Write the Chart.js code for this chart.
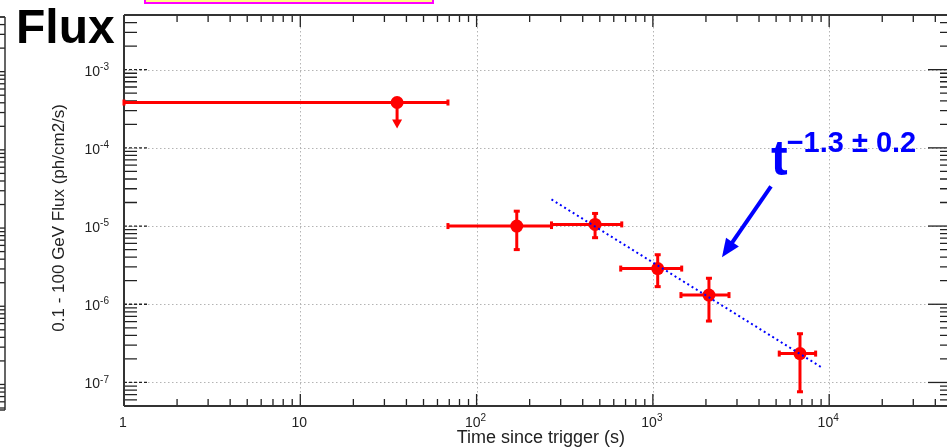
<!DOCTYPE html>
<html>
<head>
<meta charset="utf-8">
<script src="https://cdn.jsdelivr.net/npm/chart.js@4.4.0/dist/chart.umd.min.js"></script>
<style>
  html, body { margin: 0; padding: 0; background: #fff; }
  #wrap { width: 947px; height: 447px; }
</style>
</head>
<body>
<div id="wrap"><canvas id="fluxChart" width="947" height="447"></canvas></div>
<script>
// Time bins (s) and flux values
const timeMid  = [35.4, 169, 470, 1065, 2080, 6830];
const timeLow  = [1, 68.8, 266, 657, 1443, 5210];
const timeHigh = [68.8, 266, 666, 1457, 2703, 8380];
const flux     = [3.8e-4, 1.0e-5, 1.05e-5, 2.86e-6, 1.31e-6, 2.34e-7];
const fluxLow  = [1.82e-4, 5.0e-6, 7.1e-6, 1.68e-6, 6.1e-7, 7.6e-8];
const fluxHigh = [3.8e-4, 1.55e-5, 1.45e-5, 4.3e-6, 2.15e-6, 4.2e-7];
const upperLimit = [true, false, false, false, false, false];

// Power-law fit (dotted blue)
const fitTime = [266, 9060];
const fitFlux = [2.19e-5, 1.56e-7];

// Axis ranges and tick labels
const xRange = [1, 46600];
const yRange = [5e-8, 5e-3];
const xTickValues = [1, 10, 100, 1000, 10000];
const xTickLabels = ['1', '10', '10^2', '10^3', '10^4'];
const yTickValues = [1e-3, 1e-4, 1e-5, 1e-6, 1e-7];
const yTickLabels = ['10^-3', '10^-4', '10^-5', '10^-6', '10^-7'];

// Annotation: t^(-1.3 +- 0.2) with arrow (data coords)
const noteText = ['t', '\u22121.3 \u00b1 0.2'];
const noteAt = [4677, 4.44e-5];
const arrowFrom = [4677, 3.21e-5];
const arrowTo = [2466, 3.98e-6];

const FONT = '"Liberation Sans", Arial, Helvetica, sans-serif';

function drawPower(ctx, label, x, y, align, size) {
    const parts = label.split('^');
    ctx.font = size + 'px ' + FONT;
    const wb = ctx.measureText(parts[0]).width;
    const supSize = Math.round(size * 0.72);
    let we = 0;
    if (parts[1]) {
        ctx.font = supSize + 'px ' + FONT;
        we = ctx.measureText(parts[1]).width;
    }
    const total = wb + we;
    let start = x;
    if (align === 'center') start = x - total / 2;
    if (align === 'right') start = x - total;
    ctx.textAlign = 'left';
    ctx.textBaseline = 'alphabetic';
    ctx.font = size + 'px ' + FONT;
    ctx.fillText(parts[0], start, y);
    if (parts[1]) {
        ctx.font = supSize + 'px ' + FONT;
        ctx.fillText(parts[1], start + wb, y - size * 0.42);
    }
}

function logTicks(min, max) {
    const out = [];
    for (let k = Math.floor(Math.log10(min)); k <= Math.ceil(Math.log10(max)); k++) {
        for (let m = 1; m <= 9; m++) {
            const v = m * Math.pow(10, k);
            if (v >= min * 0.999 && v <= max * 1.001) out.push({ v: v, major: m === 1 });
        }
    }
    return out;
}

// Frame, grid, ticks, labels (ROOT style)
const framePlugin = {
    id: 'frame',
    beforeDatasetsDraw(chart) {
        const ctx = chart.ctx;
        const a = chart.chartArea;
        const sx = chart.scales.x, sy = chart.scales.y;
        ctx.save();

        // dotted grid at decades
        ctx.strokeStyle = '#b4b4b4';
        ctx.lineWidth = 1;
        ctx.setLineDash([1.5, 2.5]);
        xTickValues.forEach(v => {
            const x = Math.round(sx.getPixelForValue(v)) + 0.5;
            if (x <= a.left + 2) return;
            ctx.beginPath(); ctx.moveTo(x, a.top); ctx.lineTo(x, a.bottom); ctx.stroke();
        });
        yTickValues.forEach(v => {
            const y = Math.round(sy.getPixelForValue(v)) + 0.5;
            ctx.beginPath(); ctx.moveTo(a.left, y); ctx.lineTo(a.right, y); ctx.stroke();
        });
        ctx.setLineDash([]);

        // ticks
        ctx.strokeStyle = '#222';
        ctx.lineWidth = 1.3;
        logTicks(xRange[0], xRange[1]).forEach(t => {
            const x = sx.getPixelForValue(t.v);
            const len = t.major ? 12 : 7;
            ctx.beginPath();
            ctx.moveTo(x, a.bottom); ctx.lineTo(x, a.bottom - len);
            ctx.moveTo(x, a.top); ctx.lineTo(x, a.top + len);
            ctx.stroke();
        });
        logTicks(yRange[0], yRange[1]).forEach(t => {
            const y = sy.getPixelForValue(t.v);
            ctx.beginPath();
            if (t.major) {
                ctx.setLineDash([3, 2]);
                ctx.moveTo(a.left, y); ctx.lineTo(a.left + 24, y);
                ctx.stroke();
                ctx.setLineDash([]);
                ctx.beginPath();
                ctx.moveTo(a.right, y); ctx.lineTo(a.right - 19, y);
            } else {
                ctx.moveTo(a.left, y); ctx.lineTo(a.left + 13, y);
                ctx.moveTo(a.right, y); ctx.lineTo(a.right - 7, y);
            }
            ctx.stroke();
            // neighbouring panel edge on the far left
            ctx.beginPath();
            ctx.moveTo(0, y + 2); ctx.lineTo(5, y + 2);
            ctx.stroke();
        });

        // frame lines
        ctx.strokeStyle = '#333';
        ctx.lineWidth = 2;
        ctx.beginPath();
        ctx.moveTo(a.left, a.top); ctx.lineTo(a.right, a.top);
        ctx.moveTo(a.left, a.top); ctx.lineTo(a.left, a.bottom);
        ctx.moveTo(a.left, a.bottom); ctx.lineTo(a.right, a.bottom);
        ctx.stroke();

        ctx.lineWidth = 1.5;
        ctx.beginPath();
        ctx.moveTo(5, a.top + 2); ctx.lineTo(5, a.bottom + 4);
        ctx.moveTo(0, a.top + 2); ctx.lineTo(5, a.top + 2);
        ctx.moveTo(0, a.bottom + 4); ctx.lineTo(5, a.bottom + 4);
        ctx.stroke();

        // tick labels
        ctx.fillStyle = '#222';
        xTickValues.forEach((v, i) => {
            drawPower(ctx, xTickLabels[i], sx.getPixelForValue(v) - 1, 427, 'center', 14);
        });
        yTickValues.forEach((v, i) => {
            drawPower(ctx, yTickLabels[i], a.left - 15, sy.getPixelForValue(v) + 6, 'right', 14);
        });

        // axis titles
        ctx.font = '18px ' + FONT;
        ctx.textAlign = 'right';
        ctx.textBaseline = 'alphabetic';
        ctx.fillText('Time since trigger (s)', 625, 443);
        ctx.save();
        ctx.translate(64, 104);
        ctx.rotate(-Math.PI / 2);
        ctx.font = '17px ' + FONT;
        ctx.fillText('0.1 - 100 GeV Flux (ph/cm2/s)', 0, 0);
        ctx.restore();

        // error bars
        ctx.fillStyle = '#ff0000';
        ctx.strokeStyle = '#ff0000';
        ctx.lineWidth = 3;
        timeMid.forEach((t, i) => {
            const x = sx.getPixelForValue(t);
            const y = sy.getPixelForValue(flux[i]);
            const x1 = sx.getPixelForValue(timeLow[i]);
            const x2 = sx.getPixelForValue(timeHigh[i]);
            ctx.beginPath(); ctx.moveTo(x1, y); ctx.lineTo(x2, y); ctx.stroke();
            ctx.fillRect(x1 - 1.5, y - 3, 3, 6);
            ctx.fillRect(x2 - 1.5, y - 3, 3, 6);
            const y1 = sy.getPixelForValue(fluxHigh[i]);
            const y2 = sy.getPixelForValue(fluxLow[i]);
            if (upperLimit[i]) {
                ctx.beginPath(); ctx.moveTo(x, y); ctx.lineTo(x, y2 - 6); ctx.stroke();
                ctx.beginPath();
                ctx.moveTo(x - 5, y2 - 8); ctx.lineTo(x + 5, y2 - 8); ctx.lineTo(x, y2 + 1);
                ctx.closePath(); ctx.fill();
            } else {
                ctx.beginPath(); ctx.moveTo(x, y1); ctx.lineTo(x, y2); ctx.stroke();
                ctx.fillRect(x - 3, y1 - 1.5, 6, 3);
                ctx.fillRect(x - 3, y2 - 1.5, 6, 3);
            }
        });
        ctx.restore();
    },
    afterDraw(chart) {
        const ctx = chart.ctx;
        const sx = chart.scales.x, sy = chart.scales.y;
        ctx.save();

        // title fragment and clipped legend box
        ctx.fillStyle = '#000';
        ctx.font = 'bold 48px ' + FONT;
        ctx.textAlign = 'left';
        ctx.textBaseline = 'alphabetic';
        ctx.fillText('Flux', 16, 43);
        ctx.fillStyle = '#ffff80';
        ctx.fillRect(145, -4, 288, 7);
        ctx.strokeStyle = '#ff00ff';
        ctx.lineWidth = 2;
        ctx.strokeRect(145, -4, 288, 7);

        // power-law annotation
        ctx.fillStyle = '#0000ff';
        const tx = sx.getPixelForValue(noteAt[0]);
        const ty = sy.getPixelForValue(noteAt[1]);
        ctx.font = 'bold 50px ' + FONT;
        ctx.fillText(noteText[0], tx, ty);
        const tw = ctx.measureText(noteText[0]).width;
        ctx.font = 'bold 29px ' + FONT;
        ctx.fillText(noteText[1], tx + tw - 1, ty - 23);

        const ax1 = sx.getPixelForValue(arrowFrom[0]), ay1 = sy.getPixelForValue(arrowFrom[1]);
        const ax2 = sx.getPixelForValue(arrowTo[0]), ay2 = sy.getPixelForValue(arrowTo[1]);
        const ang = Math.atan2(ay2 - ay1, ax2 - ax1);
        const head = 20;
        ctx.strokeStyle = '#0000ff';
        ctx.lineWidth = 4;
        ctx.beginPath();
        ctx.moveTo(ax1, ay1);
        ctx.lineTo(ax2 - Math.cos(ang) * head * 0.8, ay2 - Math.sin(ang) * head * 0.8);
        ctx.stroke();
        ctx.beginPath();
        ctx.moveTo(ax2, ay2);
        ctx.lineTo(ax2 - head * Math.cos(ang - 0.4), ay2 - head * Math.sin(ang - 0.4));
        ctx.lineTo(ax2 - head * Math.cos(ang + 0.4), ay2 - head * Math.sin(ang + 0.4));
        ctx.closePath();
        ctx.fill();
        ctx.restore();
    }
};

const ctxFlux = document.getElementById('fluxChart').getContext('2d');
new Chart(ctxFlux, {
    type: 'scatter',
    data: {
        datasets: [
            {
                label: 'Power-law fit',
                data: fitTime.map((t, i) => ({ x: t, y: fitFlux[i] })),
                showLine: true,
                borderColor: '#0000ff',
                borderWidth: 2,
                borderDash: [2, 3],
                pointRadius: 0
            },
            {
                label: 'LAT flux',
                data: timeMid.map((t, i) => ({ x: t, y: flux[i] })),
                backgroundColor: '#ff0000',
                borderColor: '#ff0000',
                borderWidth: 0,
                pointRadius: 6.5
            }
        ]
    },
    options: {
        responsive: false,
        animation: false,
        devicePixelRatio: 1,
        layout: { autoPadding: false, padding: { left: 124, top: 15, right: 0, bottom: 41 } },
        plugins: { legend: { display: false }, tooltip: { enabled: false } },
        scales: {
            x: { type: 'logarithmic', min: xRange[0], max: xRange[1], display: false },
            y: { type: 'logarithmic', min: yRange[0], max: yRange[1], display: false }
        }
    },
    plugins: [framePlugin]
});
</script>
</body>
</html>
